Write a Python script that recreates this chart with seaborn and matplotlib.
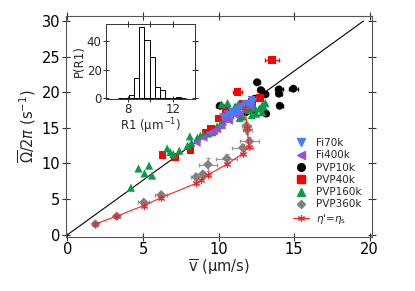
import numpy as np
import pandas as pd
import matplotlib
matplotlib.use("Agg")
import matplotlib.pyplot as plt
from matplotlib.lines import Line2D
import seaborn as sns

# main panel data (v in um/s, Omega/2pi in 1/s)
fi70k_v = [10.3, 10.6, 10.9, 11.1, 11.4, 11.6, 11.9, 12.1, 12.3, 10.8, 11.3, 11.8, 12.2]
fi70k_w = [16.5, 16.9, 17.3, 17.1, 17.6, 17.9, 18.1, 18.4, 18.7, 16.6, 17.4, 18.3, 18.9]

fi400k_v = [8.55, 9.0, 9.4, 9.7, 9.9, 10.2, 10.4, 10.6, 10.8, 11.0, 11.2, 11.4, 11.7, 12.0, 10.7, 11.1, 11.4, 12.1]
fi400k_w = [12.9, 13.6, 14.3, 14.5, 14.8, 15.3, 16.2, 16.7, 17.0, 17.4, 17.8, 18.1, 18.2, 18.5, 16.0, 16.8, 17.0, 18.0]

pvp10k_v = [10.1, 12.55, 12.8, 13.1, 14.0, 14.95, 14.0, 14.05, 13.15, 12.4, 12.2, 11.8]
pvp10k_w = [18.1, 21.4, 20.3, 19.7, 20.4, 20.5, 19.8, 18.1, 17.0, 19.1, 17.4, 17.2]
pvp10k_xerr = [0.25, 0.2, 0.2, 0.2, 0.25, 0.3, 0.2, 0.2, 0.15, 0.15, 0.15, 0.15]

pvp40k_v = [6.3, 7.1, 8.15, 9.15, 9.5, 10.0, 10.5, 11.25, 12.75, 13.55, 11.6, 12.2]
pvp40k_w = [11.2, 10.9, 11.9, 14.3, 14.8, 16.3, 17.4, 20.0, 19.2, 24.5, 18.4, 18.6]
pvp40k_xerr = [0.1, 0.1, 0.1, 0.1, 0.1, 0.1, 0.1, 0.3, 0.15, 0.45, 0.1, 0.1]

pvp160k_v = [4.2, 4.7, 5.1, 5.4, 5.6, 6.6, 6.8, 7.0, 7.4, 7.95, 8.1, 8.2, 8.6, 8.8, 9.0, 9.3,
             9.6, 9.9, 10.1, 10.3, 10.5, 10.8, 11.0, 11.1, 11.3, 11.6, 11.8, 12.1, 12.4, 12.7,
             12.9, 13.1, 11.4, 11.6, 12.2, 12.5, 10.2, 10.6, 12.9, 13.0]
pvp160k_w = [6.6, 9.3, 8.6, 9.7, 8.3, 12.1, 11.6, 11.3, 11.8, 12.5, 13.8, 12.9, 13.6, 13.9, 14.0, 14.2,
             14.4, 15.2, 15.4, 15.9, 16.3, 16.8, 17.3, 18.0, 18.3, 18.4, 17.6, 17.5, 17.8, 17.7,
             18.2, 18.5, 16.4, 16.6, 16.8, 17.0, 18.3, 18.5, 17.2, 18.0]

pvp360k_v = [1.85, 3.25, 5.05, 6.2, 8.5, 8.95, 9.3, 10.55, 11.6, 12.05, 11.9, 11.85]
pvp360k_w = [1.5, 2.6, 4.55, 5.6, 8.1, 8.5, 9.85, 10.7, 12.2, 13.1, 14.7, 15.3]
pvp360k_xerr = [0.15, 0.2, 0.35, 0.4, 0.35, 0.45, 0.6, 0.7, 0.7, 0.6, 0.3, 0.3]
pvp360k_yerr = [0.15, 0.2, 0.3, 0.35, 0.4, 0.5, 0.9, 0.6, 0.5, 0.6, 0.5, 0.5]

eta_v = [1.85, 3.25, 5.05, 6.2, 8.5, 8.85, 9.3, 10.55, 11.6, 12.0, 11.9, 11.75]
eta_w = [1.5, 2.6, 4.1, 5.2, 7.2, 7.7, 8.4, 9.9, 11.4, 12.3, 15.0, 17.8]

ref_v = [0, 19.6]
ref_w = [0, 30]

# inset histogram
r1_edges = [7.11, 7.58, 8.05, 8.52, 8.99, 9.46, 9.93, 10.40, 10.87, 11.34, 11.81, 12.28, 12.75, 13.22]
r1_counts = [0, 0, 2, 14, 50, 41, 29, 8, 6, 0, 0, 1, 0]

groups = ["Fi70k", "Fi400k", "PVP10k", "PVP40k", "PVP160k", "PVP360k"]
colors = {"Fi70k": "#4a7cf4", "Fi400k": "#9a4fe0", "PVP10k": "black",
          "PVP40k": "#ff0000", "PVP160k": "#0a9a4a", "PVP360k": "#808080"}
markers = {"Fi70k": "v", "Fi400k": "<", "PVP10k": "o",
           "PVP40k": "s", "PVP160k": "^", "PVP360k": "D"}
sizes = {"Fi70k": 34, "Fi400k": 34, "PVP10k": 32, "PVP40k": 30, "PVP160k": 34, "PVP360k": 24}

vals = {"Fi70k": (fi70k_v, fi70k_w), "Fi400k": (fi400k_v, fi400k_w),
        "PVP10k": (pvp10k_v, pvp10k_w), "PVP40k": (pvp40k_v, pvp40k_w),
        "PVP160k": (pvp160k_v, pvp160k_w), "PVP360k": (pvp360k_v, pvp360k_w)}

sns.set_theme(style="ticks")
plt.rcParams["font.family"] = ["DejaVu Sans"]

fig = plt.figure(figsize=(4.15, 2.91), dpi=100)
ax = fig.add_axes([0.159, 0.186, 0.737, 0.759])

ax.errorbar(pvp360k_v, pvp360k_w, xerr=pvp360k_xerr, yerr=pvp360k_yerr, fmt="none",
            ecolor="#999999", elinewidth=0.8, capsize=1.5, zorder=1)
ax.errorbar(pvp10k_v, pvp10k_w, xerr=pvp10k_xerr, fmt="none",
            ecolor="black", elinewidth=0.8, capsize=1.5, zorder=1)
ax.errorbar(pvp40k_v, pvp40k_w, xerr=pvp40k_xerr, fmt="none",
            ecolor="#ff0000", elinewidth=0.8, capsize=1.5, zorder=1)

sns.lineplot(x=ref_v, y=ref_w, ax=ax, color="black", linewidth=0.8, zorder=2)

draw_order = ["PVP360k", "PVP10k", "PVP40k", "PVP160k", "Fi400k", "Fi70k"]
for g in draw_order:
    v, w = vals[g]
    sns.scatterplot(x=v, y=w, ax=ax, color=colors[g], marker=markers[g], s=sizes[g],
                    edgecolor="none", linewidth=0, zorder=3)

eta_df = pd.DataFrame({"v": eta_v, "w": eta_w, "k": np.arange(len(eta_v))})
sns.lineplot(data=eta_df, x="v", y="w", sort=False, estimator=None, ax=ax,
             color="#ff2020", linewidth=0.8, marker=(6, 2, 0), markersize=5,
             markeredgecolor="#ff2020", markeredgewidth=0.8, zorder=4)

ax.set_xlim(-0.1, 20.15)
ax.set_ylim(-0.3, 30.7)
ax.set_xticks([0, 5, 10, 15, 20])
ax.set_yticks([0, 5, 10, 15, 20, 25, 30])
ax.tick_params(direction="inout", length=6, width=0.8, top=True, right=True,
               labelsize=10.5, colors="#333333", labelcolor="black", pad=1)
for s in ax.spines.values():
    s.set_color("#555555")
    s.set_linewidth(0.8)
ax.set_xlabel(r"$\overline{\mathrm{v}}$ ($\mathrm{\mu}$m/s)", fontsize=10.5, labelpad=0)
ax.set_ylabel(r"$\overline{\Omega}/2\pi$ (s$^{-1}$)", fontsize=10.5, labelpad=3)

handles = [Line2D([], [], linestyle="none", marker=markers[g], color=colors[g],
                  markersize=5.5 if g != "PVP360k" else 4.5) for g in groups]
handles.append(Line2D([], [], color="#ff2020", linewidth=0.8, marker=(6, 2, 0),
                      markersize=5, markeredgewidth=0.8))
labels = groups + [r"$\eta$'=$\eta_\mathrm{s}$"]
ax.legend(handles, labels, loc="lower right", bbox_to_anchor=(0.985, 0.022), frameon=False,
          fontsize=7.5, handlelength=1.6, handletextpad=0.6, labelspacing=0.22,
          borderaxespad=0.2)

# inset
ins = fig.add_axes([0.255, 0.66, 0.215, 0.258])
mids = [(a + b) / 2 for a, b in zip(r1_edges[:-1], r1_edges[1:])]
sns.histplot(x=mids, weights=r1_counts, bins=r1_edges, ax=ins, color="white",
             edgecolor="black", linewidth=0.7, alpha=1)
ins.set_xlim(6, 14)
ins.set_ylim(-0.5, 52)
ins.set_xticks([8, 12])
ins.set_xticks([10], minor=True)
ins.set_yticks([0, 20, 40])
ins.tick_params(direction="inout", length=4, width=0.7, top=True, right=True,
                labelsize=8.5, pad=1)
ins.tick_params(which="minor", direction="inout", length=4, width=0.7, top=True)
for s in ins.spines.values():
    s.set_color("#333333")
    s.set_linewidth(0.7)
ins.set_xlabel(r"R1 ($\mathrm{\mu}$m$^{-1}$)", fontsize=8.5, labelpad=0)
ins.set_ylabel("P(R1)", fontsize=8.5, labelpad=1)

fig.savefig("out.png", dpi=100)
